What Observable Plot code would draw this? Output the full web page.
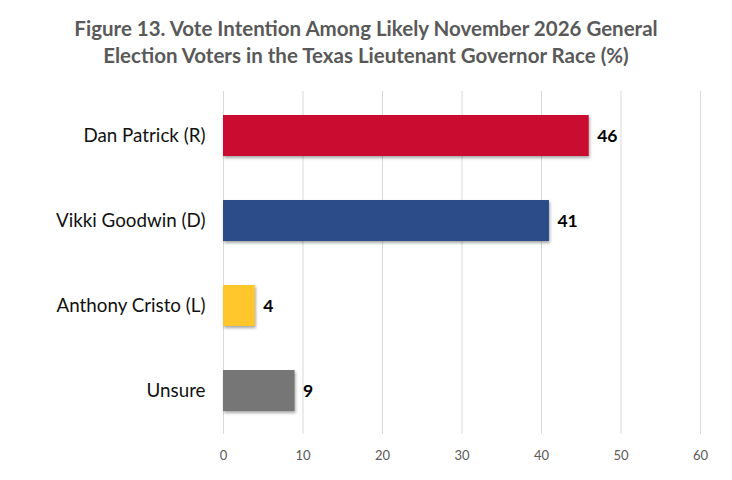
<!DOCTYPE html>
<html>
<head>
<meta charset="utf-8">
<script src="https://cdn.jsdelivr.net/npm/d3@7"></script>
<script src="https://cdn.jsdelivr.net/npm/@observablehq/plot@0.6"></script>
<style>
  body { margin: 0; background: #fff; width: 732px; }
  #title { font-family: Lato, "Open Sans", sans-serif; font-weight: bold; font-size: 20.5px; color: #595959; text-align: center; line-height: 27px; padding-top: 15px; height: 64px; box-sizing: border-box; letter-spacing: 0px; }
  .bars rect { filter: drop-shadow(1px 2px 1.5px rgba(0,0,0,0.35)); }
  .yax text { font-size: 18.8px; }
</style>
</head>
<body>
<div id="title">Figure 13. Vote Intention Among Likely November 2026 General<br>Election Voters in the Texas Lieutenant Governor Race (%)</div>
<div id="chart"></div>
<script>
const candidates = ["Dan Patrick (R)", "Vikki Goodwin (D)", "Anthony Cristo (L)", "Unsure"];
const shares = [46, 41, 4, 9];
const colors = ["#C90C2F", "#2B4C89", "#FFC72C", "#767676"];
const xTicks = [0, 10, 20, 30, 40, 50, 60];

const data = candidates.map((c, i) => ({candidate: c, value: shares[i], color: colors[i]}));

const chart = Plot.plot({
  width: 732,
  height: 416,
  marginTop: 27,
  marginBottom: 46,
  marginLeft: 223,
  marginRight: 32,
  style: {fontFamily: "Lato, 'Open Sans', sans-serif", background: "#fff"},
  x: {domain: [0, 60], ticks: xTicks, tickSize: 0, tickPadding: 14, label: null},
  y: {domain: candidates, paddingInner: 0.52, paddingOuter: 0.26, label: null, tickSize: 0, tickPadding: 18},
  marks: [
    Plot.ruleX(xTicks, {stroke: "#d9d9d9"}),
    Plot.barX(data, {x: "value", y: "candidate", fill: "color", className: "bars"}),
    Plot.text(data, {x: "value", y: "candidate", text: d => String(d.value), dx: 8, textAnchor: "start", fontWeight: "bold", fontSize: 17.5, fill: "#000"}),
    Plot.axisX({ticks: xTicks, tickSize: 0, tickPadding: 16, fontSize: 13, color: "#595959", label: null}),
    Plot.axisY({tickSize: 0, tickPadding: 18, color: "#111", label: null, className: "yax"})
  ]
});
document.getElementById("chart").appendChild(chart);
</script>
</body>
</html>
